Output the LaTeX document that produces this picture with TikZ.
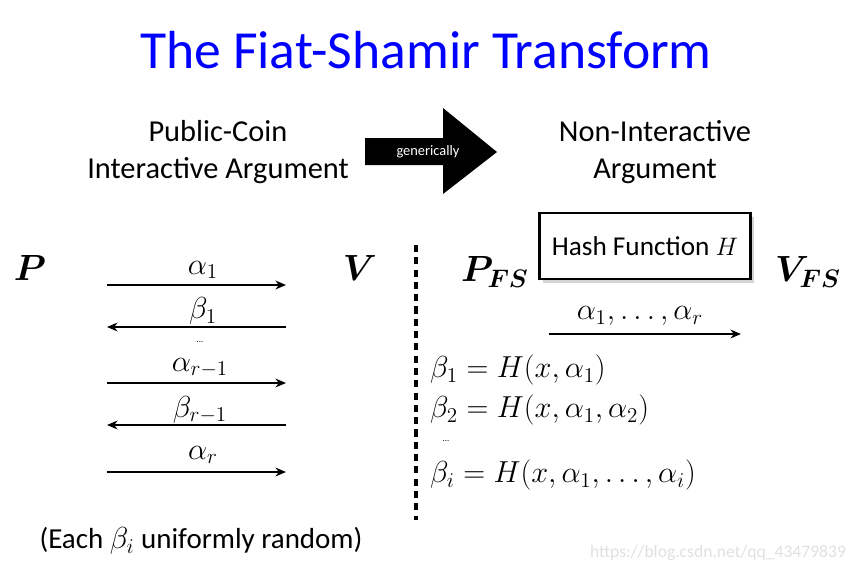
\documentclass[tikz,border=0pt]{standalone}
\usepackage{amsmath}
\usepackage{bm}
\usepackage{fontspec}
\setmainfont{Carlito}
\usetikzlibrary{arrows.meta, positioning, shadows}
\definecolor{fsBlue}{HTML}{0000FF}
\definecolor{markGrey}{HTML}{E0E0E0}

\tikzset{
  msg/.style={-{Stealth[length=6pt,width=5pt]}, line width=1.1pt},
  mathlbl/.style={font=\fontsize{17}{20}\selectfont},
  party/.style={font=\fontsize{22}{26}\selectfont},
  heading/.style={font=\fontsize{17.3}{21}\selectfont, align=center}
}

\begin{document}
\begin{tikzpicture}[x=0.02cm, y=-0.02cm]
    \useasboundingbox (0,0) rectangle (849,572);

    \node[font=\fontsize{30.5}{36}\selectfont\color{fsBlue}] (title) at (426, 50)
      {The Fiat-Shamir Transform};

    % the two kinds of argument
    \node[heading] (ia) at (218, 152) {Public-Coin\\[0pt]Interactive Argument};
    \node[heading] (nia) at (655, 152) {Non-Interactive\\[0pt]Argument};

    \fill (365,138) -- (443,138) -- (443,108) -- (497,152) -- (443,194)
      -- (443,165) -- (365,165) -- cycle;
    \node[font=\fontsize{8.2}{10}\selectfont\color{white}] (gen) at (428, 152)
      {generically};

    % interactive protocol
    \node[party] (P) at (30, 268) {$\bm{P}$};
    \node[party] (V) at (360, 268) {$\bm{V}$};

    \coordinate (l1) at (107, 285); \coordinate (r1) at (286, 285);
    \coordinate (l2) at (107, 327); \coordinate (r2) at (286, 327);
    \coordinate (l3) at (107, 383); \coordinate (r3) at (286, 383);
    \coordinate (l4) at (107, 425); \coordinate (r4) at (286, 425);
    \coordinate (l5) at (107, 472); \coordinate (r5) at (286, 472);

    \draw[msg] (l1) -- (r1);
    \draw[msg] (r2) -- (l2);
    \draw[msg] (l3) -- (r3);
    \draw[msg] (r4) -- (l4);
    \draw[msg] (l5) -- (r5);

    \node[mathlbl] (a1) at (203, 270) {$\alpha_1$};
    \node[mathlbl] (b1) at (203, 311) {$\beta_1$};
    \node[font=\tiny] (dots1) at (200, 342) {...};
    \node[mathlbl] (ar1) at (200, 368) {$\alpha_{r-1}$};
    \node[mathlbl] (br1) at (200, 410) {$\beta_{r-1}$};
    \node[mathlbl] (ar) at (203, 455) {$\alpha_r$};

    \node[font=\fontsize{16.5}{20}\selectfont] (note) at (201, 541)
      {(Each $\beta_i$ uniformly random)};

    % separator
    \coordinate (sepTop) at (416, 245);
    \coordinate (sepBot) at (416, 520);
    \draw[line width=1.8pt, dash pattern=on 4pt off 3pt] (sepTop) -- (sepBot);

    % non-interactive protocol
    \node[draw, line width=1.3pt, fill=white, minimum width=211*0.02cm,
      minimum height=66*0.02cm, font=\fontsize{15.5}{19}\selectfont,
      drop shadow={opacity=0.35, shadow xshift=2pt, shadow yshift=-2pt}]
      (hash) at (645, 246) {Hash Function $H$};

    \node[party] (PFS) at (495, 272) {$\bm{P_{FS}}$};
    \node[party] (VFS) at (808, 272) {$\bm{V_{FS}}$};

    \coordinate (fsL) at (549, 334); \coordinate (fsR) at (741, 334);
    \draw[msg] (fsL) -- (fsR);
    \node[mathlbl] (alist) at (640, 316) {$\alpha_1, \dots, \alpha_r$};

    \node[mathlbl, anchor=west] (eq1) at (424, 370) {$\beta_1 = H(x, \alpha_1)$};
    \node[mathlbl, anchor=west] (eq2) at (424, 410) {$\beta_2 = H(x, \alpha_1, \alpha_2)$};
    \node[font=\tiny] (dots2) at (446, 441) {...};
    \node[mathlbl, anchor=west] (eqi) at (424, 475) {$\beta_i = H(x, \alpha_1, \dots, \alpha_i)$};

    \node[font=\fontsize{10}{12}\selectfont\color{markGrey}] (mark) at (718, 553)
      {https://blog.csdn.net/qq\_43479839};
\end{tikzpicture}
\end{document}
